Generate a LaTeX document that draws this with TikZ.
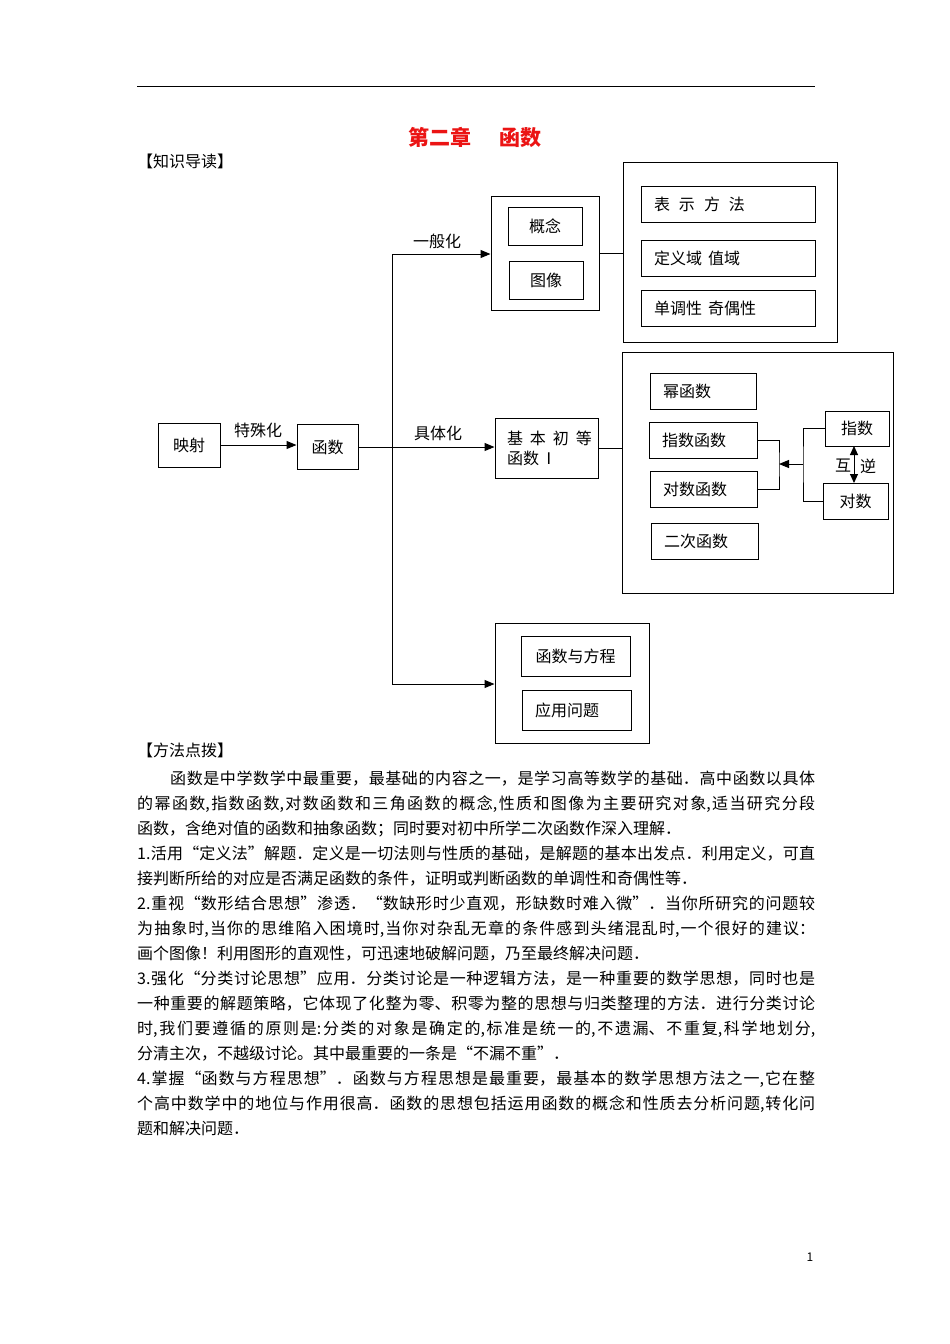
\documentclass[tikz,border=0pt]{standalone}
\usepackage{fontspec}
\setmainfont{Noto Sans CJK SC}
\usetikzlibrary{arrows.meta}
\definecolor{titlered}{RGB}{235,20,20}
\newcommand\lblfont{\fontsize{16pt}{19pt}\selectfont}
\newcommand\bodyfont{\fontsize{16pt}{25pt}\selectfont}
\begin{document}
\begin{tikzpicture}[x=1pt,y=-1pt,
  box/.style={draw=black, line width=1pt, inner sep=0pt, font=\lblfont},
  lbox/.style={box, align=left, text width=#1, inner xsep=13pt},
  conn/.style={draw=black, line width=1pt},
  arr/.style={conn, -{Triangle[length=10pt,width=8pt]}},
  darr/.style={conn, {Triangle[length=9pt,width=8pt]}-{Triangle[length=9pt,width=8pt]}},
  lbl/.style={font=\lblfont, inner sep=0pt},
]
\useasboundingbox (0,0) rectangle (950,1344);
\fill[white] (0,0) rectangle (950,1344);

% header rule and title
\draw[line width=1pt] (137,86) -- (815,86);
\node[font=\fontsize{21pt}{24pt}\selectfont\bfseries, text=titlered, inner sep=0pt] (title) at (475,137) {第二章\hspace{1.3em}函数};
\node[anchor=west, font=\bodyfont, inner sep=0pt] (zsdd) at (137,161) {【知识导读】};

% main chain
\node[box, minimum width=62pt, minimum height=44pt] (ys) at (189,445) {映射};
\node[box, minimum width=61pt, minimum height=45pt] (hs) at (327.5,447) {函数};
\node[lbl] (tsh) at (258,430) {特殊化};
\draw[arr] (ys.east) -- (ys.east -| hs.west);

% general branch
\node[box, minimum width=108pt, minimum height=114pt] (gn) at (545,253) {};
\node[box, minimum width=74pt, minimum height=38pt] (gn1) at (545,226) {概念};
\node[box, minimum width=74pt, minimum height=38pt] (gn2) at (546,280) {图像};
\node[box, minimum width=214pt, minimum height=180pt] (b2) at (730,252) {};
\node[lbox=148pt, minimum height=36pt] (b2a) at (728,204) {表\hspace{9pt}示\hspace{9pt}方\hspace{9pt}法};
\node[lbox=148pt, minimum height=36pt] (b2b) at (728,258) {定义域\hspace{6pt}值域};
\node[lbox=148pt, minimum height=36pt] (b2c) at (728,308) {单调性\hspace{6pt}奇偶性};
\draw[conn] (gn.east) -- (gn.east -| b2.west);
\node[lbl] (ybh) at (437,241) {一般化};

% concrete branch
\node[box, align=left, text width=91pt, inner xsep=6pt, minimum height=60pt, font=\fontsize{16pt}{20pt}\selectfont] (jb) at (546.5,448) {\hspace*{6pt}基\hspace{7pt}本\hspace{7pt}初\hspace{7pt}等\\\hspace*{6pt}函数\hspace{2pt}Ⅰ};
\node[lbl] (jth) at (438,433) {具体化};
\draw[arr] (hs.east) -- (hs.east -| jb.west);
\node[box, minimum width=271pt, minimum height=241pt] (b3) at (757.5,472.5) {};
\draw[conn] (jb.east) -- (jb.east -| b3.west);
\node[lbox=80pt, minimum height=36pt] (m1) at (703,391) {幂函数};
\node[lbox=82pt, minimum height=36pt] (m2) at (703,440) {指数函数};
\node[lbox=81pt, minimum height=36pt] (m3) at (703.5,489) {对数函数};
\node[lbox=81pt, minimum height=36pt] (m4) at (704.5,541) {二次函数};
\node[box, minimum width=64pt, minimum height=35pt] (zs) at (857,428.5) {指数};
\node[box, minimum width=65pt, minimum height=36pt] (ds) at (855.5,501) {对数};
\coordinate (kx) at (779,464);
\coordinate (rx) at (803,464);
\draw[conn] (m2.east) -| (kx) |- (m3.east);
\draw[conn] (zs.west) -| (rx) |- (ds.west);
\draw[arr] (rx) -- (kx);
\draw[darr] (854,446) -- (854,483);
\node[lbl] (hu) at (843,466) {互};
\node[lbl] (ni) at (868,466) {逆};

% vertical trunk
\coordinate (tt) at (392,254);
\coordinate (bb) at (392,684);
\draw[conn] (tt) -- (bb);
\draw[arr] (tt) -- (tt -| gn.west);

% application branch
\node[box, minimum width=154pt, minimum height=120pt] (b4) at (572,683) {};
\node[box, minimum width=109pt, minimum height=40pt] (b4a) at (575.5,656) {函数与方程};
\node[lbox=83pt, minimum height=40pt] (b4b) at (576.5,710) {应用问题};
\draw[arr] (bb) -- (bb -| b4.west);

% method text
\node[anchor=west, font=\bodyfont, inner sep=0pt] (ffdb) at (137,750) {【方法点拨】};
\node[anchor=north west, inner sep=0pt, text width=678pt, align=justify, font=\bodyfont] (body) at (137,771) {%
\XeTeXlinebreaklocale "zh"\XeTeXlinebreakskip=0pt plus 6pt\relax\parskip=0pt\parindent=0pt
\hspace*{33pt}函数是中学数学中最重要，最基础的内容之一，是学习高等数学的基础．高中函数以具体\linebreak
的幂函数,指数函数,对数函数和三角函数的概念,性质和图像为主要研究对象,适当研究分段\linebreak
函数，含绝对值的函数和抽象函数；同时要对初中所学二次函数作深入理解．\par
1.活用“定义法”解题．定义是一切法则与性质的基础，是解题的基本出发点．利用定义，可直\linebreak
接判断所给的对应是否满足函数的条件，证明或判断函数的单调性和奇偶性等．\par
2.重视“数形结合思想”渗透．“数缺形时少直观，形缺数时难入微”．当你所研究的问题较\linebreak
为抽象时,当你的思维陷入困境时,当你对杂乱无章的条件感到头绪混乱时,一个很好的建议：\linebreak
画个图像！利用图形的直观性，可迅速地破解问题，乃至最终解决问题．\par
3.强化“分类讨论思想”应用．分类讨论是一种逻辑方法，是一种重要的数学思想，同时也是\linebreak
一种重要的解题策略，它体现了化整为零、积零为整的思想与归类整理的方法．进行分类讨论\linebreak
时,我们要遵循的原则是:分类的对象是确定的,标准是统一的,不遗漏、不重复,科学地划分,\linebreak
分清主次，不越级讨论。其中最重要的一条是“不漏不重”．\par
4.掌握“函数与方程思想”．函数与方程思想是最重要，最基本的数学思想方法之一,它在整\linebreak
个高中数学中的地位与作用很高．函数的思想包括运用函数的概念和性质去分析问题,转化问\linebreak
题和解决问题．\par};

\node[font=\fontsize{12pt}{14pt}\selectfont, inner sep=0pt] (pg) at (810,1257) {1};
\end{tikzpicture}
\end{document}
